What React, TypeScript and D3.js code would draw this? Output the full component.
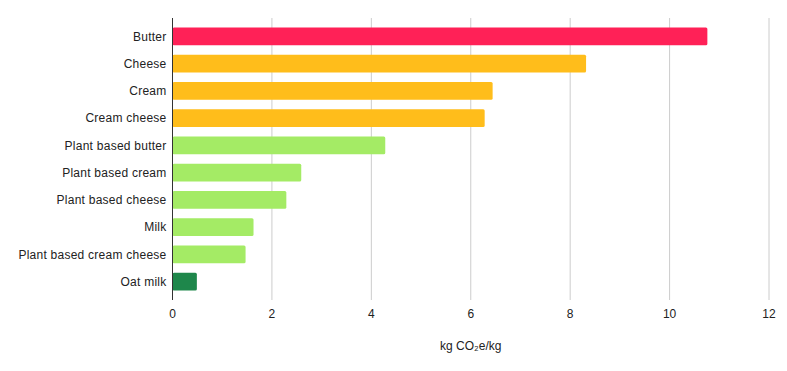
import React from "react";
import * as d3 from "d3";

const products = [
  "Butter",
  "Cheese",
  "Cream",
  "Cream cheese",
  "Plant based butter",
  "Plant based cream",
  "Plant based cheese",
  "Milk",
  "Plant based cream cheese",
  "Oat milk",
];
const emissions = [10.76, 8.32, 6.44, 6.28, 4.28, 2.59, 2.29, 1.63, 1.47, 0.49];
const groups = ["high", "mid", "mid", "mid", "low", "low", "low", "low", "low", "lowest"];
const xTicks = [0, 2, 4, 6, 8, 10, 12];

const palette: Record<string, string> = {
  high: "#ff2157",
  mid: "#ffbd1b",
  low: "#a4eb65",
  lowest: "#1e874b",
};

const W = 787, H = 371;
const margin = { top: 18, right: 18, bottom: 71, left: 172.5 };

export default function App() {
  const x = d3.scaleLinear().domain([0, 12]).range([margin.left, W - margin.right]);
  const y = d3
    .scaleBand<string>()
    .domain(products)
    .range([margin.top, H - margin.bottom])
    .paddingInner(0.35)
    .paddingOuter(0.35);
  const bottom = H - margin.bottom;
  const font = "'Liberation Sans', Arial, sans-serif";

  return (
    <svg width={W} height={H} style={{ position: "absolute", left: 0, top: 0 }} fontFamily={font}>
      <rect width={W} height={H} fill="#fff" />
      {xTicks.map((t) => (
        <g key={t}>
          {t > 0 && (
            <line x1={x(t)} x2={x(t)} y1={margin.top} y2={bottom} stroke="#cccccc" strokeWidth={1} />
          )}
          <text x={x(t)} y={bottom + 18} textAnchor="middle" fontSize={12} fill="#222">
            {t}
          </text>
        </g>
      ))}
      {products.map((p, i) => (
        <g key={p}>
          <rect
            x={x(0)}
            y={y(p)}
            width={x(emissions[i]) - x(0)}
            height={y.bandwidth()}
            rx={1.5}
            fill={palette[groups[i]]}
          />
          <text
            x={margin.left - 6}
            y={(y(p) as number) + y.bandwidth() / 2}
            dy="0.35em"
            textAnchor="end"
            fontSize={12}
            letterSpacing={0.25}
            fill="#222"
          >
            {p}
          </text>
        </g>
      ))}
      <line x1={x(0)} x2={x(0)} y1={margin.top} y2={bottom} stroke="#333" strokeWidth={1} />
      <text x={(x(0) + x(12)) / 2} y={bottom + 50} textAnchor="middle" fontSize={12} fill="#222">
        kg CO₂e/kg
      </text>
    </svg>
  );
}
